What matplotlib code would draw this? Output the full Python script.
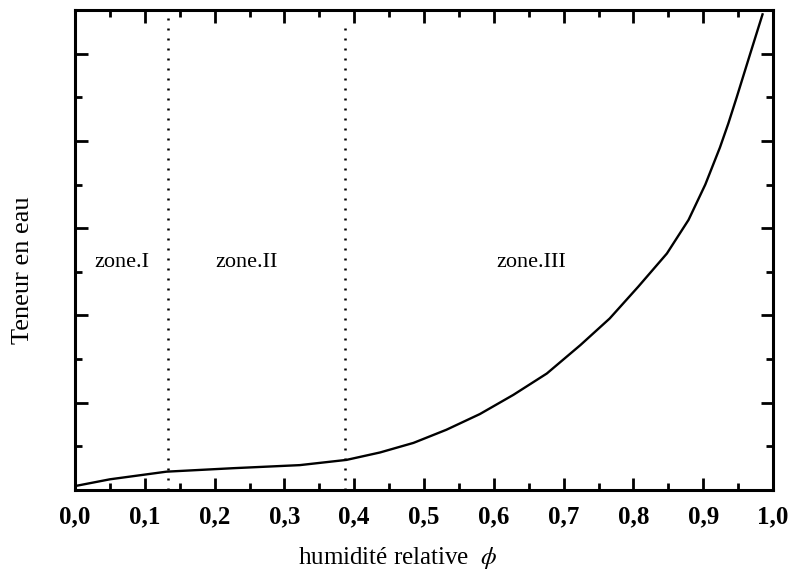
import matplotlib
matplotlib.use("Agg")
import matplotlib.pyplot as plt
from matplotlib.ticker import MultipleLocator, FuncFormatter

# Data
phi = [0.0, 0.05, 0.131, 0.227, 0.322, 0.389, 0.437, 0.485, 0.532, 0.580,
       0.628, 0.676, 0.724, 0.766, 0.807, 0.848, 0.879, 0.903, 0.924, 0.936,
       0.948, 0.967, 0.985]
teneur = [0.09, 0.245, 0.42, 0.50, 0.57, 0.69, 0.86, 1.08, 1.38, 1.74,
          2.18, 2.67, 3.32, 3.93, 4.66, 5.42, 6.19, 7.00, 7.85, 8.40,
          9.00, 9.98, 10.90]

zone_bounds = [0.133, 0.387]
zone_bound_tops = [10.85, 10.6]
zone_labels = ["zone.I", "zone.II", "zone.III"]
zone_label_x = [0.067, 0.246, 0.653]
zone_label_y = 5.22

plt.rcParams['font.family'] = ['Liberation Serif', 'DejaVu Serif']
plt.rcParams['mathtext.fontset'] = 'stix'

fig = plt.figure(figsize=(7.91, 5.71), dpi=100)
ax = fig.add_axes([75/791, 1-490/571, (773-75)/791, (490-10)/571])

ax.plot(phi, teneur, color='black', lw=1.7)
for xb, top in zip(zone_bounds, zone_bound_tops):
    ax.plot([xb, xb], [0, top], color='black', lw=1.8, linestyle=(0, (0.8, 3.2)))

for lab, x in zip(zone_labels, zone_label_x):
    ax.text(x, zone_label_y, lab, fontsize=16, ha='center', va='center')

ax.set_xlim(0, 1.0)
ax.set_ylim(0, 11)
ax.xaxis.set_major_locator(MultipleLocator(0.1))
ax.xaxis.set_minor_locator(MultipleLocator(0.05))
ax.yaxis.set_major_locator(MultipleLocator(2))
ax.yaxis.set_minor_locator(MultipleLocator(1))
ax.xaxis.set_major_formatter(FuncFormatter(lambda v, p: f"{v:.1f}".replace('.', ',')))
ax.tick_params(which='both', direction='in', top=True, right=True, width=2, colors='black')
ax.tick_params(which='major', length=9)
ax.tick_params(which='minor', length=5)
ax.tick_params(axis='x', labelsize=18, pad=11)
ax.tick_params(axis='y', labelleft=False)
for lbl in ax.get_xticklabels():
    lbl.set_fontweight('bold')
for s in ax.spines.values():
    s.set_linewidth(2.2)

ax.set_xlabel(r"humidité relative  $\phi$", fontsize=18, labelpad=12)
ax.xaxis.label.set_x(0.463)
ax.set_ylabel("Teneur en eau", fontsize=19, labelpad=26)
ax.yaxis.label.set_y(0.458)

fig.savefig("out.png", dpi=100)
